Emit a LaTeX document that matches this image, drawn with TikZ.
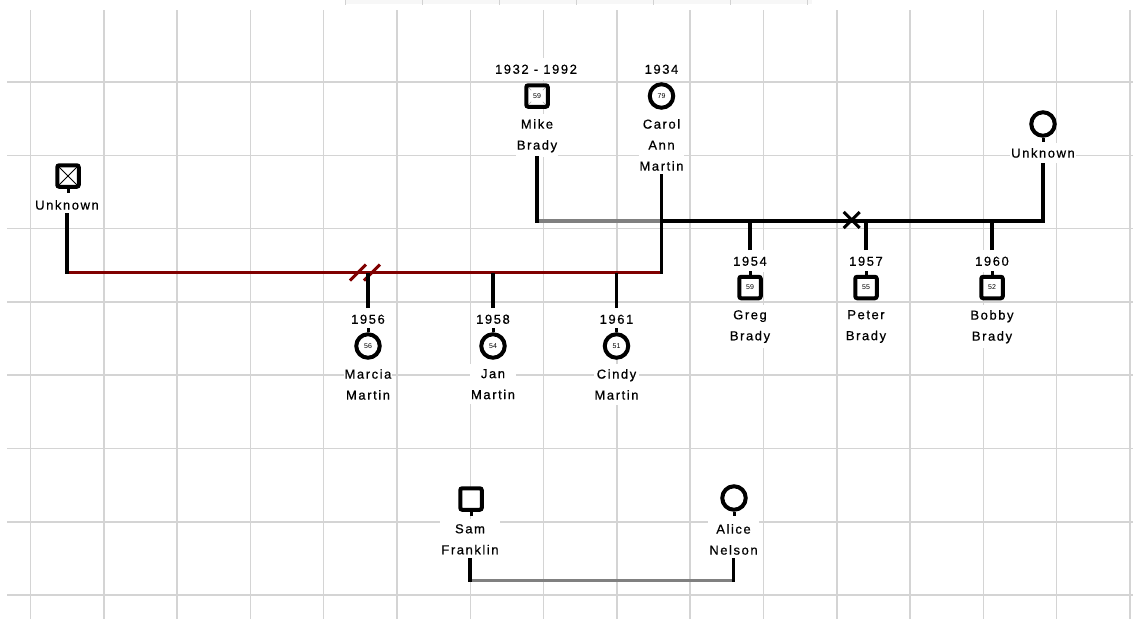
\documentclass[tikz,border=0pt]{standalone}
\usepackage{fontspec}
\newfontfamily\pedfont[LetterSpace=12,FakeBold=0.6]{Liberation Sans}
\newfontfamily\agefont{Liberation Sans}
\usetikzlibrary{positioning}
\definecolor{gridgray}{RGB}{212,212,212}
\definecolor{divred}{RGB}{128,0,0}

\begin{document}
\begin{tikzpicture}[x=1pt,y=-1pt,font=\pedfont\fontsize{13}{21}\selectfont]
  \useasboundingbox (0,0) rectangle (1133,619);
  \tikzset{gridln/.style={draw=gridgray,line width=1.5pt},
    link/.style={line width=3.5pt,line cap=rect},
    couple/.style={line width=3.5pt,draw=gray},
    divorce/.style={line width=3.5pt,draw=divred},
    male/.style={draw,fill=white,line width=4pt,rounded corners=2pt,minimum size=21.5pt,
                 inner sep=0pt,font=\agefont\fontsize{7}{7}\selectfont},
    female/.style={male,circle,minimum size=23.5pt},
    stub/.style={line width=3pt},
    yearlbl/.style={fill=white,inner xsep=1pt,inner ysep=6pt,text height=9.5pt,text depth=0pt},
    nm/.style={fill=white,align=center,inner xsep=1pt,inner ysep=5pt,anchor=north}}
  % grid
  \foreach \i in {0,...,15}
    \draw[gridln] ({30.5+73.3*\i},10) -- ({30.5+73.3*\i},619);
  \foreach \j in {0,...,7}
    \draw[gridln] (7,{82+73.3*\j}) -- (1133,{82+73.3*\j});
  \fill[gray!6] (345,0) rectangle (812,4);
  \foreach \t in {345,422,499,576,653,730,807}
    \draw[gray!35,line width=1pt] (\t,0) -- (\t,5);

  % parents
  \node[male,path picture={
      \draw[gray!70,line width=0.6pt] (path picture bounding box.north west) -- ++(5,5);
      \draw[gray!70,line width=0.6pt] (path picture bounding box.north east) -- ++(-5,5);
      \draw[gray!70,line width=0.6pt] (path picture bounding box.south west) -- ++(5,-5);
      \draw[gray!70,line width=0.6pt] (path picture bounding box.south east) -- ++(-5,-5);}]
    (mike) at (537,96) {59};
  \node[yearlbl] (mikeY) at (536,69) {1932 - 1992};
  \node[nm] (mikeN) at (537,114) {Mike\\Brady};
  \node[female] (carol) at (661.5,96) {79};
  \node[yearlbl] (carolY) at (661.5,69) {1934};
  \node[nm] (carolN) at (661.5,114) {Carol\\Ann\\Martin};
  \node[female] (unkR) at (1043,124) {};
  \node[nm] (unkRN) at (1043,143) {Unknown};
  \node[male,path picture={
      \draw[line width=0.8pt] (path picture bounding box.north west) -- (path picture bounding box.south east)
                              (path picture bounding box.north east) -- (path picture bounding box.south west);}]
    (unkL) at (68,176) {};
  \node[nm] (unkLN) at (67,195) {Unknown};
  \draw[stub] (unkR.south) -- ++(0,4);
  \draw[stub] (unkL.south) -- ++(0,4);

  % couples
  \coordinate (mc) at (661.5,221);
  \coordinate (redL) at (67,272.5);
  \coordinate (redR) at (661.5,272.5);
  \draw[couple] (mikeN |- mc) -- (mc);
  \draw[link] (mikeN) -- (mikeN |- mc);
  \draw[divorce] (redL) -- (redR);
  \draw[link] (unkLN) -- (redL);
  \draw[link] (carolN) -- (redR);
  \draw[link,line cap=butt] (mc) -| (unkRN);
  % separated / divorced marks
  \coordinate (sepx) at (851.7,220);
  \draw[line width=3pt] ([shift={(-8,-8)}]sepx) -- ([shift={(8,8)}]sepx)
                        ([shift={(8,-8)}]sepx) -- ([shift={(-8,8)}]sepx);
  \coordinate (divx) at (365,272.5);
  \draw[divred,line width=3pt] ([shift={(-15,8)}]divx) -- ([shift={(1,-8)}]divx)
                               ([shift={(-1,8)}]divx) -- ([shift={(15,-8)}]divx);

  % children
  \foreach \x/\yy/\age/\first/\id in {750/1954/59/Greg/greg,866/1957/55/Peter/peter,992/1960/52/Bobby/bobby}{
    \node[yearlbl] (\id-yr) at (\x,261) {\yy};
    \node[male] (\id) at (\x,287.5) {\age};
    \node[nm] (\id-nm) at (\x,305) {\first\\Brady};
    \draw[stub] (\id.north) -- ++(0,-4);
    \draw[link,line cap=butt] (\id-yr) -- (\id-yr |- mc);
  }
  \foreach \x/\yy/\age/\first/\id in {368/1956/56/Marcia/marcia,493/1958/54/Jan/jan,616.5/1961/51/Cindy/cindy}{
    \node[yearlbl] (\id-yr) at (\x,319) {\yy};
    \node[female] (\id) at (\x,346) {\age};
    \node[nm] (\id-nm) at (\x,364) {\first\\Martin};
    \draw[stub] (\id.north) -- ++(0,-4);
    \draw[link,line cap=butt] (\id-yr) -- (\id-yr |- redR);
  }

  % Sam and Alice
  \node[male] (sam) at (471,499) {};
  \node[nm] (samN) at (470,519) {Sam\\Franklin};
  \node[female] (alice) at (734,498) {};
  \node[nm] (aliceN) at (733.5,519) {Alice\\Nelson};
  \draw[stub] (sam.south) -- ++(0,4);
  \draw[stub] (alice.south) -- ++(0,4);
  \coordinate (samL) at (470,580.5);
  \coordinate (aliceL) at (733.5,580.5);
  \draw[couple] (samL) -- (aliceL);
  \draw[link] (samN) -- (samL);
  \draw[link] (aliceN) -- (aliceL);
\end{tikzpicture}
\end{document}
